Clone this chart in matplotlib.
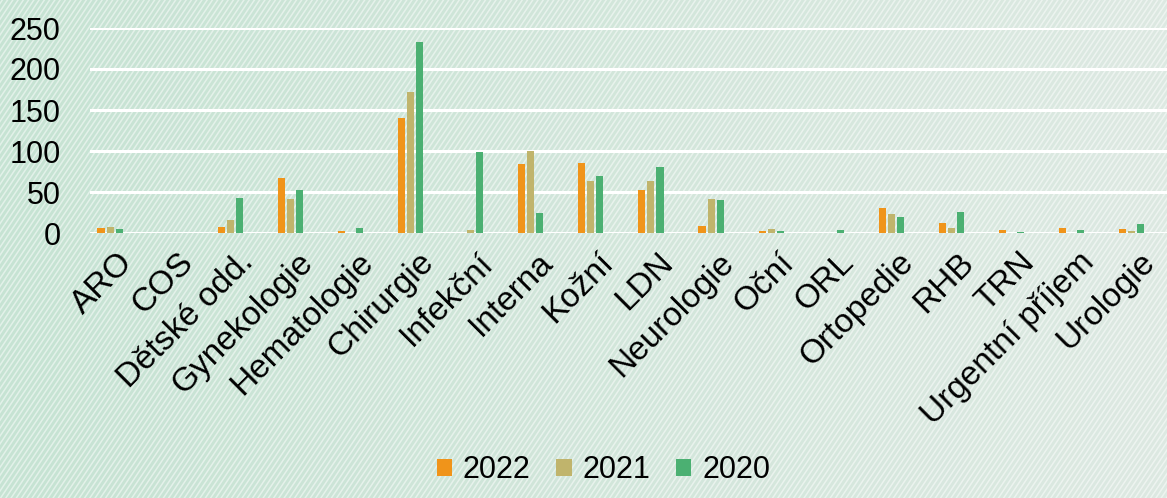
import numpy as np
import matplotlib
matplotlib.use("Agg")
import matplotlib.pyplot as plt
import matplotlib.transforms as mtransforms
from matplotlib.patches import Patch

plt.rcParams["font.family"] = ["Liberation Sans Narrow", "Liberation Sans", "DejaVu Sans"]

categories = ["ARO", "COS", "Dětské odd.", "Gynekologie", "Hematologie", "Chirurgie",
              "Infekční", "Interna", "Kožní", "LDN", "Neurologie", "Oční", "ORL",
              "Ortopedie", "RHB", "TRN", "Urgentní příjem", "Urologie"]
v2022 = [6, 0, 7, 67, 3, 140, 0, 84, 85, 53, 9, 3, 0, 31, 12, 4, 6, 5]
v2021 = [7, 0, 16, 41, 0, 172, 4, 100, 64, 64, 42, 5, 0, 23, 6, 0, 0, 3]
v2020 = [5, 0, 43, 53, 6, 233, 99, 25, 69, 80, 40, 2, 4, 19, 26, 1, 4, 11]
series = [("2022", v2022, "#F0941A"), ("2021", v2021, "#C0B46C"), ("2020", v2020, "#4BB072")]
yticks = [0, 50, 100, 150, 200, 250]

W, H = 1167, 498
fig = plt.figure(figsize=(W / 100, H / 100), dpi=100)

# background: soft green gradient with fine diagonal stripes
bg = fig.add_axes([0, 0, 1, 1], zorder=0)
xs = np.linspace(0, 1, 300)
grad = np.vstack([xs] * 10)
cmap = matplotlib.colors.LinearSegmentedColormap.from_list("bg", ["#c6e3d3", "#dde9e2"])
bg.imshow(grad, aspect="auto", cmap=cmap, extent=(0, 1, 0, 1))
for c in np.arange(-0.4, 1.05, 0.0045):
    bg.plot([c, c + 0.285], [0, 1], color="white", lw=1.1, alpha=0.5)
bg.set_xlim(0, 1); bg.set_ylim(0, 1); bg.axis("off")

ax = fig.add_axes([90 / W, 1 - 233 / H, 1 - 90 / W, (233 - 28) / H], zorder=1)
ax.patch.set_alpha(0)
x = np.arange(len(categories))
bw = 0.118
step = 0.15
for i, (name, vals, col) in enumerate(series):
    ax.bar(x + (i - 1) * step, vals, width=bw, color=col, zorder=3, label=name)

cat_px = 60.1  # category width in pixels
ax.set_xlim(-0.5 + 10 / cat_px, -0.5 + (W - 80) / cat_px)
ax.set_ylim(0, 250)
ax.set_yticks(yticks)
ax.yaxis.grid(True, color="white", lw=2.2, zorder=0)
ax.set_axisbelow(True)
for s in ax.spines.values():
    s.set_visible(False)
ax.tick_params(axis="y", length=0, pad=21, labelsize=22)
ax.tick_params(axis="x", length=0, pad=10, labelsize=24)
ax.set_xticks(x)
ax.set_xticklabels(categories, rotation=45, ha="right", rotation_mode="anchor")
shift = mtransforms.ScaledTranslation(7 / 100, 0, fig.dpi_scale_trans)
for lbl in ax.get_xticklabels():
    lbl.set_transform(lbl.get_transform() + shift)

handles = [Patch(fc=c, ec="none", label=n) for n, _, c in series]
fig.legend(handles=handles, loc="lower center", ncol=3, frameon=False, fontsize=22,
           bbox_to_anchor=(0.517, -0.03), handlelength=0.5, handleheight=0.5,
           handletextpad=0.35, columnspacing=0.85)

fig.savefig("out.png", dpi=100)
